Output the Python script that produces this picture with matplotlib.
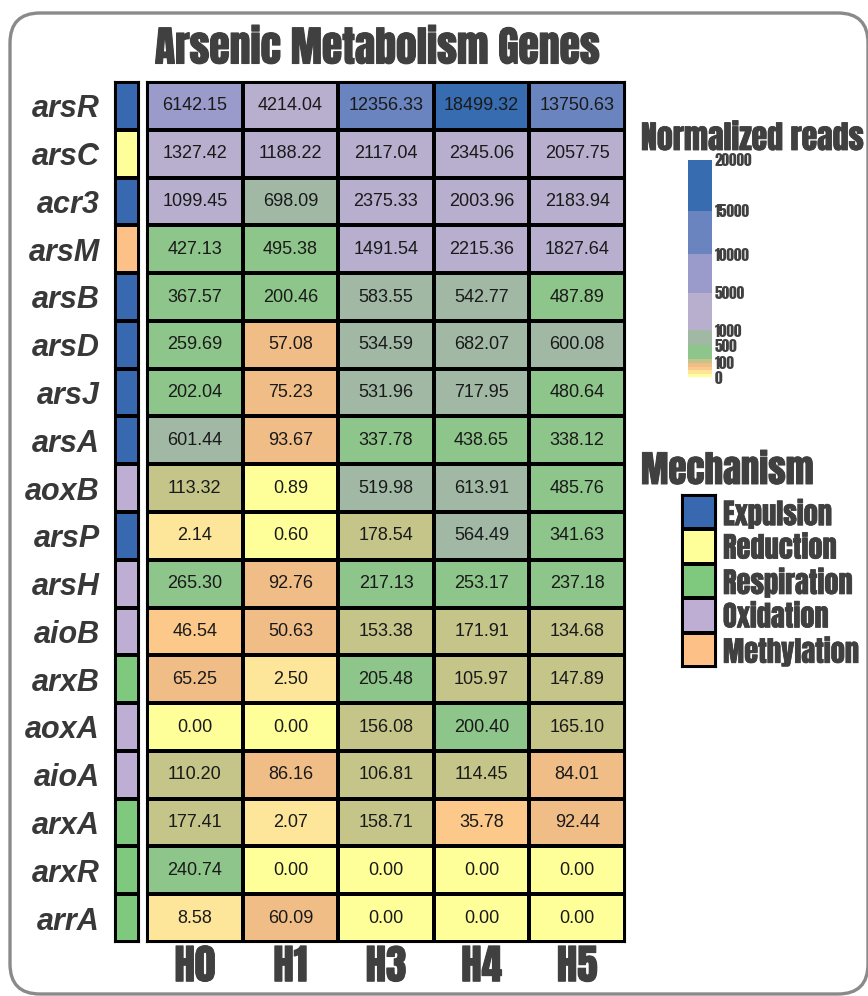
import numpy as np
import matplotlib
matplotlib.use('Agg')
import matplotlib.pyplot as plt
import matplotlib.patheffects as pe
from matplotlib import font_manager
from matplotlib.colors import ListedColormap, BoundaryNorm
from matplotlib.patches import FancyBboxPatch
from matplotlib.transforms import IdentityTransform

# données
genes = ['arsR', 'arsC', 'acr3', 'arsM', 'arsB', 'arsD', 'arsJ', 'arsA', 'aoxB',
         'arsP', 'arsH', 'aioB', 'arxB', 'aoxA', 'aioA', 'arxA', 'arxR', 'arrA']
samples = ['H0', 'H1', 'H3', 'H4', 'H5']

H0 = [6142.15, 1327.42, 1099.45, 427.13, 367.57, 259.69, 202.04, 601.44, 113.32,
      2.14, 265.30, 46.54, 65.25, 0.00, 110.20, 177.41, 240.74, 8.58]
H1 = [4214.04, 1188.22, 698.09, 495.38, 200.46, 57.08, 75.23, 93.67, 0.89,
      0.60, 92.76, 50.63, 2.50, 0.00, 86.16, 2.07, 0.00, 60.09]
H3 = [12356.33, 2117.04, 2375.33, 1491.54, 583.55, 534.59, 531.96, 337.78, 519.98,
      178.54, 217.13, 153.38, 205.48, 156.08, 106.81, 158.71, 0.00, 0.00]
H4 = [18499.32, 2345.06, 2003.96, 2215.36, 542.77, 682.07, 717.95, 438.65, 613.91,
      564.49, 253.17, 171.91, 105.97, 200.40, 114.45, 35.78, 0.00, 0.00]
H5 = [13750.63, 2057.75, 2183.94, 1827.64, 487.89, 600.08, 480.64, 338.12, 485.76,
      341.63, 237.18, 134.68, 147.89, 165.10, 84.01, 92.44, 0.00, 0.00]

mechanism = ['Expulsion', 'Reduction', 'Expulsion', 'Methylation', 'Expulsion',
             'Expulsion', 'Expulsion', 'Expulsion', 'Oxidation', 'Expulsion',
             'Oxidation', 'Oxidation', 'Respiration', 'Oxidation', 'Oxidation',
             'Respiration', 'Respiration', 'Respiration']
mech_names = ['Expulsion', 'Reduction', 'Respiration', 'Oxidation', 'Methylation']
mech_colors = ['#3768b0', '#ffff99', '#7fc97f', '#beaed4', '#fdc086']

# échelle discrète des lectures normalisées
bornes = [0, 1, 10, 50, 100, 200, 500, 1000, 5000, 10000, 15000, 20000]
couleurs = ['#ffff99', '#fde69a', '#fdc98a', '#f0bd87', '#c5c489', '#8dc58a',
            '#a1b8a5', '#b8aecd', '#9b9bcb', '#6a84c0', '#386cb0']
cb_ticks = [0, 100, 500, 1000, 5000, 10000, 15000, 20000]
# hauteur (px) de chaque borne dans la barre de couleurs
cb_pos = [0, 3.5, 7, 10.5, 14.5, 18, 32, 47, 84.3, 123, 166.3, 217]

############################

def police(noms):
    for n in noms:
        try:
            font_manager.findfont(n, fallback_to_default=False)
            return n
        except Exception:
            pass
    return 'DejaVu Sans'

etroite = police(['Anton', 'Oswald', 'DejaVu Sans'])
arial = police(['Liberation Sans', 'DejaVu Sans'])
gris = '#404040'
# épaissit un peu la police étroite
gras = lambda lw: [pe.withStroke(linewidth=lw, foreground=gris)]

data = np.array([H0, H1, H3, H4, H5]).T
cmap = ListedColormap(couleurs)
norm = BoundaryNorm(bornes, cmap.N)

W, H = 868, 996
fig = plt.figure(figsize=(W / 100, H / 100), dpi=100)

def ax_px(x0, y0, x1, y1):
    return fig.add_axes([x0 / W, 1 - y1 / H, (x1 - x0) / W, (y1 - y0) / H])

# cadre arrondi
fig.patches.append(FancyBboxPatch((10, 2), 858, 981, boxstyle='round,pad=0,rounding_size=30',
                                  transform=IdentityTransform(), fill=False,
                                  edgecolor='#8a8a8a', linewidth=2.4))

# heatmap
ax = ax_px(147, 82, 625, 942)
ax.pcolormesh(data, cmap=cmap, norm=norm, edgecolors='k', linewidth=1.5)
ax.set_xlim(0, len(samples))
ax.set_ylim(len(genes), 0)
for i in range(len(genes)):
    for j in range(len(samples)):
        ax.text(j + 0.5, i + 0.5, '%.2f' % data[i, j], ha='center', va='center',
                fontsize=13, family=arial, color='#1a1a1a')
ax.set_xticks(np.arange(len(samples)) + 0.5)
ax.set_xticklabels(samples, family=etroite, fontsize=29.5, color=gris,
                   path_effects=gras(0.8))
ax.tick_params(axis='x', length=0, pad=3)
ax.set_yticks([])
for s in ax.spines.values():
    s.set_linewidth(1.5)

# colonne des mécanismes
axm = ax_px(115, 82, 139, 942)
idx = np.array([[mech_names.index(m)] for m in mechanism])
axm.pcolormesh(idx, cmap=ListedColormap(mech_colors), vmin=-0.5, vmax=4.5,
               edgecolors='k', linewidth=1.5)
axm.set_ylim(len(genes), 0)
axm.set_xticks([])
axm.set_yticks(np.arange(len(genes)) + 0.5)
axm.set_yticklabels(genes, family=arial, fontweight='bold', style='italic',
                    fontsize=22, color='#383838')
axm.tick_params(axis='y', length=0, pad=11)
for s in axm.spines.values():
    s.set_linewidth(1.5)

fig.text(377 / W, 1 - 48 / H, 'Arsenic Metabolism Genes', ha='center', va='center',
         family=etroite, fontsize=30, color=gris, path_effects=gras(0.8))

# barre de couleurs
fig.text(641 / W, 1 - 138 / H, 'Normalized reads', ha='left', va='center',
         family=etroite, fontsize=23, color=gris, path_effects=gras(0.6))
axc = ax_px(688, 160, 712, 377)
fwd = lambda v: np.interp(v, bornes, cb_pos)
inv = lambda p: np.interp(p, cb_pos, bornes)
axc.set_yscale('function', functions=(fwd, inv))
axc.bar(0, np.diff(bornes), bottom=bornes[:-1], width=1, color=couleurs, linewidth=0)
axc.set_xlim(-0.5, 0.5)
axc.set_ylim(0, 20000)
axc.yaxis.tick_right()
axc.set_yticks(cb_ticks)
axc.set_yticklabels([str(t) for t in cb_ticks], family=etroite, fontsize=11, color=gris)
axc.yaxis.set_minor_locator(matplotlib.ticker.NullLocator())
axc.tick_params(axis='y', length=0, pad=2)
axc.set_xticks([])
for s in axc.spines.values():
    s.set_visible(False)

# légende des mécanismes
fig.text(641 / W, 1 - 470 / H, 'Mechanism', ha='left', va='center',
         family=etroite, fontsize=26.5, color=gris, path_effects=gras(0.7))
axl = ax_px(682, 495, 716, 667)
axl.pcolormesh(np.arange(5).reshape(-1, 1), cmap=ListedColormap(mech_colors),
               vmin=-0.5, vmax=4.5, edgecolors='k', linewidth=1.5)
axl.set_ylim(5, 0)
axl.set_xticks([])
axl.set_yticks(np.arange(5) + 0.5)
axl.set_yticklabels(mech_names, family=etroite, fontsize=20.5, color=gris,
                    path_effects=gras(0.5))
axl.yaxis.tick_right()
axl.tick_params(axis='y', length=0, pad=5)
for s in axl.spines.values():
    s.set_linewidth(1.5)

fig.savefig('out.png', dpi=100)
